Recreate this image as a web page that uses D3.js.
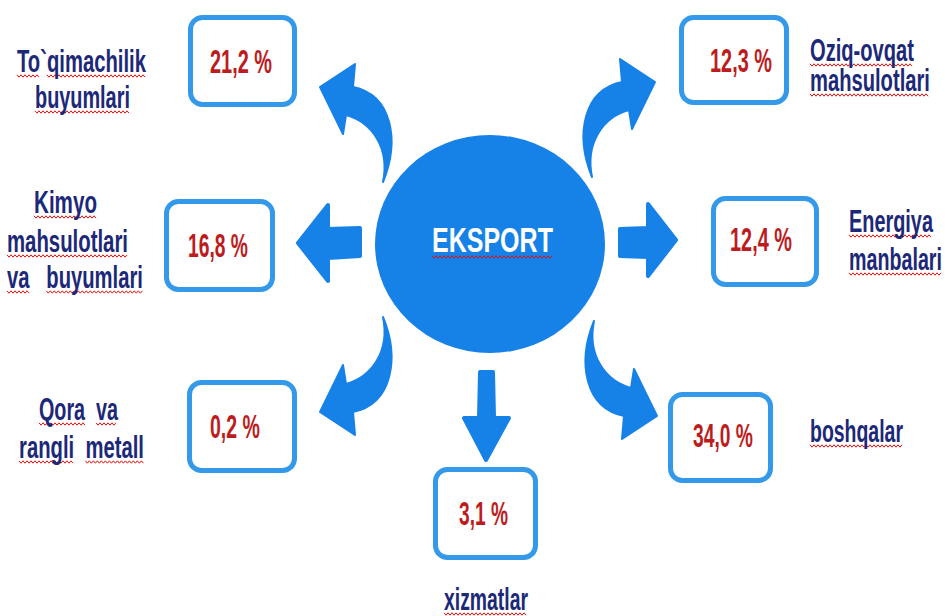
<!DOCTYPE html>
<html>
<head>
<meta charset="utf-8">
<script src="https://cdn.jsdelivr.net/npm/d3@7"></script>
<style>
  html, body { margin: 0; padding: 0; background: #fff; }
  svg { display: block; }
  text { font-family: "Liberation Sans Narrow", "Liberation Sans", Arial, sans-serif; font-weight: bold; white-space: pre; }
</style>
</head>
<body>
<div id="chart"></div>
<script>
// -----------------------------------------------------------------------------
// Data
// -----------------------------------------------------------------------------
const centerLabel = 'EKSPORT';

const categories = [
  'To`qimachilik buyumlari',
  'Oziq-ovqat mahsulotlari',
  'Kimyo mahsulotlari va buyumlari',
  'Energiya manbalari',
  'Qora va rangli metall',
  'boshqalar',
  'xizmatlar'
];

// how each category name is broken into lines
const labelLines = [
  ['To`qimachilik', 'buyumlari'],
  ['Oziq-ovqat', 'mahsulotlari'],
  ['Kimyo', 'mahsulotlari', 'va   buyumlari'],
  ['Energiya', 'manbalari'],
  ['Qora  va', 'rangli  metall'],
  ['boshqalar'],
  ['xizmatlar']
];

// share of export, %
const values = [21.2, 12.3, 16.8, 12.4, 0.2, 34.0, 3.1];

// -----------------------------------------------------------------------------
// Layout (positions of the boxes / labels around the circle)
// -----------------------------------------------------------------------------
const width = 945;
const height = 616;

const boxLayout = [
  { x: 188, y: 15,  w: 109, h: 92, tx: 210, tw: 62, ty: 73 },
  { x: 679, y: 15,  w: 110, h: 90, tx: 710, tw: 62, ty: 72 },
  { x: 164, y: 199, w: 111, h: 93, tx: 188, tw: 60, ty: 257 },
  { x: 711, y: 196, w: 108, h: 91, tx: 730, tw: 62, ty: 251 },
  { x: 187, y: 380, w: 110, h: 93, tx: 210, tw: 50, ty: 438 },
  { x: 668, y: 392, w: 105, h: 91, tx: 693, tw: 60, ty: 447 },
  { x: 433, y: 467, w: 105, h: 93, tx: 459, tw: 49, ty: 525 }
];

// [x0, x1, baseline] per label line
const labelLayout = [
  [[17, 146, 72], [35, 130, 108]],
  [[810, 914, 61], [810, 930, 91]],
  [[34, 97, 213], [7, 128, 252], [7, 143, 288]],
  [[849, 933, 232], [849, 942, 270]],
  [[39, 118, 420], [19, 144, 458]],
  [[810, 903, 442]],
  [[444, 528, 610]]
];

const circle = { cx: 490, cy: 244, rx: 115, ry: 109 };
const pivot = { x: 487.5, y: 249.5 };

// curved arrow (up-left), the other three are mirrored copies
const curvedArrow = 'M383,182 C400,140 392,95 353,87 L355,64 L320,87 L343,134 L346,115 C372,122 390,148 383,182 Z';
const curvedCopies = [
  { sx: 1,  sy: 1,  dx: 0, dy: 0 },
  { sx: -1, sy: 1,  dx: 0, dy: -5 },
  { sx: 1,  sy: -1, dx: 0, dy: 0 },
  { sx: -1, sy: -1, dx: 2, dy: 4 }
];

const straightArrows = [
  [[298, 243], [328, 205], [328, 229], [360, 228], [360, 256], [328, 258], [328, 281]],
  [[620, 229], [648, 228], [648, 204], [676, 240], [648, 276], [648, 257], [620, 256]],
  [[480, 372], [493, 372], [494, 418], [509, 418], [486, 460], [464, 418], [479, 418]]
];

const colors = {
  blue: '#1681e6',
  boxStroke: '#3599ea',
  label: '#1c2878',
  value: '#bd1c1e',
  wave: '#e01010'
};

const formatValue = v => d3.format('.1f')(v).replace('.', ',') + ' %';

// -----------------------------------------------------------------------------
// Drawing
// -----------------------------------------------------------------------------
const svg = d3.select('#chart').append('svg')
  .attr('width', width)
  .attr('height', height);

// red spell-check style wavy line
function wavePath(x0, x1, y) {
  const pts = [];
  let up = true;
  for (let x = x0; x <= x1; x += 2) {
    pts.push([x, up ? y - 1.2 : y + 1.2]);
    up = !up;
  }
  return d3.line()(pts);
}

// narrow text: squeeze the text horizontally so it spans x0..x1
function squeezedText(parent, str, x0, x1, y, size, fill) {
  const t = parent.append('text')
    .attr('x', 0)
    .attr('y', 0)
    .attr('font-size', size)
    .attr('fill', fill)
    .text(str);
  const natural = t.node().getComputedTextLength();
  const sx = (x1 - x0) / natural;
  t.attr('transform', `translate(${x0},${y}) scale(${sx},1)`);
  t.datum({ x0, sx });
  return t;
}

function underlineWords(t, y, g) {
  const node = t.node();
  const { x0, sx } = t.datum();
  const str = node.textContent;
  const re = /[^\s`]+/g;
  let m;
  while ((m = re.exec(str)) !== null) {
    const a = x0 + sx * node.getStartPositionOfChar(m.index).x;
    const b = x0 + sx * node.getEndPositionOfChar(m.index + m[0].length - 1).x;
    g.append('path')
      .attr('d', wavePath(a, b, y))
      .attr('fill', 'none')
      .attr('stroke', colors.wave)
      .attr('stroke-width', 1);
  }
}

// arrows
const arrowsG = svg.append('g').attr('class', 'arrows');

arrowsG.selectAll('.curved')
  .data(curvedCopies)
  .join('path')
  .attr('class', 'curved')
  .attr('d', curvedArrow)
  .attr('transform', d => `translate(${pivot.x + d.dx},${pivot.y + d.dy}) scale(${d.sx},${d.sy}) translate(${-pivot.x},${-pivot.y})`)
  .attr('fill', colors.blue)
  .attr('stroke', colors.blue)
  .attr('stroke-width', 2)
  .attr('stroke-linejoin', 'round');

arrowsG.selectAll('.straight')
  .data(straightArrows)
  .join('path')
  .attr('class', 'straight')
  .attr('d', d => d3.line()(d) + 'Z')
  .attr('fill', colors.blue)
  .attr('stroke', colors.blue)
  .attr('stroke-width', 4)
  .attr('stroke-linejoin', 'round');

// centre
svg.append('ellipse')
  .attr('cx', circle.cx)
  .attr('cy', circle.cy)
  .attr('rx', circle.rx)
  .attr('ry', circle.ry)
  .attr('fill', colors.blue);

const waveG = svg.append('g').attr('class', 'waves');

const centerText = squeezedText(svg, centerLabel, 432, 553, 252, 35, '#fff');
underlineWords(centerText, 257, waveG);

// value boxes
const items = categories.map((name, i) => ({
  name,
  value: values[i],
  lines: labelLines[i],
  box: boxLayout[i],
  pos: labelLayout[i]
}));

const itemG = svg.selectAll('.item')
  .data(items)
  .join('g')
  .attr('class', 'item');

itemG.append('rect')
  .attr('x', d => d.box.x + 2.5)
  .attr('y', d => d.box.y + 2.5)
  .attr('width', d => d.box.w - 5)
  .attr('height', d => d.box.h - 5)
  .attr('rx', 12)
  .attr('fill', '#fff')
  .attr('stroke', colors.boxStroke)
  .attr('stroke-width', 5);

itemG.each(function(d) {
  const g = d3.select(this);
  // value
  squeezedText(g, formatValue(d.value), d.box.tx, d.box.tx + d.box.tw, d.box.ty, 33, colors.value)
    .attr('class', 'value');
  // category label
  d.lines.forEach((line, j) => {
    const [x0, x1, y] = d.pos[j];
    const t = squeezedText(g, line, x0, x1, y, 31, colors.label).attr('class', 'label');
    underlineWords(t, y + 4, waveG);
  });
});
</script>
</body>
</html>
